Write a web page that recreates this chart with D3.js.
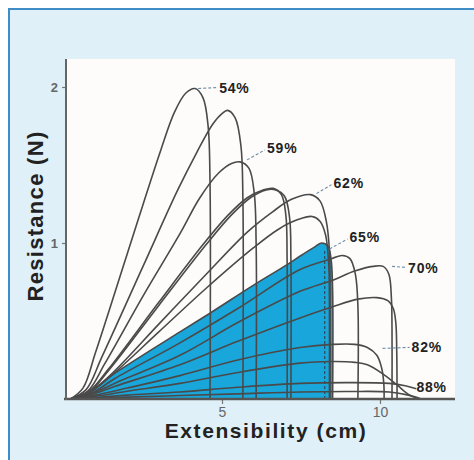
<!DOCTYPE html>
<html>
<head>
<meta charset="utf-8">
<script src="https://cdn.jsdelivr.net/npm/d3@7"></script>
<style>
html,body{margin:0;padding:0;background:#ffffff;}
svg{display:block;}
text{font-family:"Liberation Sans",Arial,Helvetica,sans-serif;}
</style>
</head>
<body>
<svg id="chart" width="474" height="460"></svg>
<script>
// ---------- DATA ----------
const xTicks = [5, 10];
const yTicks = [1, 2];
const xTitle = "Extensibility (cm)";
const yTitle = "Resistance (N)";

// Each curve: [extensibility (cm), resistance (N)]
const curveA = [[0.2,0],[0.6,0.07],[1.0,0.3],[2.0,0.93],[3.07,1.6],[3.5,1.84],[3.85,1.96],[4.15,1.99],[4.4,1.93],[4.56,1.75],[4.62,1.4],[4.62,0]];
const curveB = [[0.2,0],[0.7,0.06],[1.2,0.27],[2.5,0.85],[3.6,1.34],[4.2,1.58],[4.7,1.76],[5.0,1.83],[5.18,1.85],[5.42,1.8],[5.6,1.62],[5.66,1.3],[5.66,0]];
const curveC = [[0.2,0],[0.75,0.05],[1.3,0.23],[2.5,0.66],[3.67,1.06],[4.3,1.29],[4.9,1.45],[5.3,1.51],[5.57,1.52],[5.85,1.48],[6.02,1.32],[6.08,1.0],[6.08,0]];
const curveD = [[0.2,0],[0.8,0.05],[1.4,0.19],[3.0,0.62],[4.4,0.99],[5.2,1.18],[5.8,1.29],[6.3,1.34],[6.62,1.35],[6.88,1.31],[7.02,1.18],[7.06,0.9],[7.06,0]];
const curveE = [[0.2,0],[0.8,0.045],[1.4,0.18],[3.0,0.6],[4.5,0.99],[5.3,1.18],[5.9,1.29],[6.4,1.34],[6.7,1.34],[6.98,1.3],[7.14,1.16],[7.18,0.9],[7.18,0]];
const curveF = [[0.2,0],[0.8,0.04],[1.5,0.16],[3.0,0.48],[4.5,0.8],[5.8,1.07],[6.6,1.2],[7.2,1.28],[7.8,1.31],[8.1,1.27],[8.3,1.14],[8.4,0.95],[8.42,0.7],[8.42,0]];
const curveG = [[0.2,0],[0.8,0.04],[1.5,0.15],[3.0,0.43],[4.5,0.71],[6.0,0.97],[6.8,1.09],[7.4,1.15],[7.85,1.17],[8.1,1.14],[8.28,1.05],[8.38,0.85],[8.4,0.6],[8.4,0]];
const curveH = [[0.2,0],[0.8,0.045],[1.5,0.15],[3.67,0.43],[4.62,0.55],[6.0,0.73],[7.05,0.86],[7.5,0.92],[7.9,0.97],[8.15,1.0],[8.35,0.98],[8.45,0.9],[8.5,0.7],[8.5,0]];
const curveI = [[0.2,0],[0.9,0.04],[1.6,0.13],[3.67,0.36],[5.5,0.58],[7.47,0.83],[8.48,0.9],[8.8,0.92],[9.05,0.9],[9.22,0.8],[9.3,0.6],[9.3,0]];
const curveJ = [[0.2,0],[0.9,0.035],[1.6,0.1],[3.67,0.28],[5.5,0.49],[7.47,0.69],[8.48,0.76],[9.2,0.82],[9.78,0.85],[10.1,0.85],[10.28,0.8],[10.36,0.65],[10.38,0.45],[10.38,0]];
const curveK = [[0.2,0],[0.9,0.03],[1.6,0.08],[3.67,0.22],[5.5,0.37],[7.47,0.52],[8.48,0.59],[9.3,0.64],[9.9,0.65],[10.25,0.63],[10.42,0.58],[10.5,0.49],[10.53,0.3],[10.54,0]];
const curveL = [[0.2,0],[1.0,0.025],[2.0,0.07],[3.67,0.15],[5.5,0.25],[7.47,0.33],[8.5,0.35],[9.2,0.35],[9.6,0.33],[9.9,0.28],[10.05,0.2],[10.12,0.1],[10.13,0]];
const curveM = [[0.2,0],[1.0,0.018],[2.0,0.05],[3.67,0.1],[5.5,0.17],[7.47,0.23],[8.5,0.24],[9.2,0.235],[9.6,0.22],[10.1,0.16],[10.54,0.09],[10.9,0.03],[11.25,0]];
const curveN = [[0.2,0],[1.0,0.01],[2.0,0.025],[3.67,0.045],[5.5,0.075],[7.47,0.1],[9.0,0.105],[10.3,0.1],[10.8,0.085],[11.15,0.065]];
const curveO = [[0.2,0],[1.0,0.006],[2.0,0.012],[3.67,0.022],[5.5,0.033],[7.47,0.045],[9.0,0.048],[10.3,0.045],[10.9,0.025],[11.3,0]];

const curves = [curveA, curveB, curveC, curveD, curveE, curveF, curveG, curveH, curveI, curveJ, curveK, curveL, curveM, curveN, curveO];
const filledCurve = curveH;
const labelTexts  = ["54%", "59%", "62%", "65%", "70%", "82%", "88%"];
const labelCurves = [curveA, curveC, curveF, curveH, curveJ, curveL, curveN];

// ---------- DRAWING ----------
const svg = d3.select("#chart");
const W = 474, H = 460;

// outer panel
svg.append("rect").attr("x",0).attr("y",0).attr("width",W).attr("height",H).attr("fill","#ffffff");
svg.append("rect").attr("x",9).attr("y",9).attr("width",W+20).attr("height",H+20)
  .attr("fill","#dff0f8").attr("stroke","#3f8dc6").attr("stroke-width",2);

const x = d3.scaleLinear().domain([0, 12.3]).range([64, 64 + 31.6*12.3]);
const y = d3.scaleLinear().domain([0, 2.18]).range([399, 399 - 156*2.18]);

// plot area (white)
svg.append("rect").attr("x",66).attr("y",y(2.18)).attr("width",455-66).attr("height",399-y(2.18))
  .attr("fill","#fdfcfb");

const line = d3.line().x(d=>x(d[0])).y(d=>y(d[1])).curve(d3.curveCatmullRom.alpha(0.5));
const area = d3.area().x(d=>x(d[0])).y0(y(0)).y1(d=>y(d[1])).curve(d3.curveCatmullRom.alpha(0.5));

// blue fill
svg.append("path").datum(filledCurve).attr("d",area).attr("fill","#19a6da");
// dashed line inside fill near its right edge
const fillEdgeX = filledCurve[filledCurve.length-4][0] - 0.1;
svg.append("line").attr("x1",x(fillEdgeX)).attr("x2",x(fillEdgeX)).attr("y1",y(0)).attr("y2",y(0.95))
  .attr("stroke","#2b4a5c").attr("stroke-width",1.2).attr("stroke-dasharray","3,2");

// curves
svg.append("g").selectAll("path").data(curves).join("path")
  .attr("d", line).attr("fill","none").attr("stroke","#4a4a4a").attr("stroke-width",1.6)
  .attr("stroke-linejoin","round");

// axes
const xAxis = d3.axisBottom(x).tickValues(xTicks).tickSize(5).tickFormat(d3.format("d"));
const gx = svg.append("g").attr("transform",`translate(0,${y(0)})`).call(xAxis);
gx.select(".domain").remove();
gx.selectAll(".tick line").attr("stroke","#777").attr("stroke-width",1.2);
gx.selectAll(".tick text").attr("fill","#666").attr("font-size",14).attr("y",8).attr("dy","0.71em");
svg.append("line").attr("x1",64).attr("x2",455).attr("y1",y(0)).attr("y2",y(0))
  .attr("stroke","#555").attr("stroke-width",2.4);

const yAxis = d3.axisLeft(y).tickValues(yTicks).tickSize(4).tickFormat(d3.format("d"));
const gy = svg.append("g").attr("transform",`translate(66,0)`).call(yAxis);
gy.select(".domain").remove();
gy.selectAll(".tick line").attr("stroke","#777").attr("stroke-width",1.2);
gy.selectAll(".tick text").attr("fill","#666").attr("font-size",13).attr("font-weight","bold").attr("x",-8);
svg.append("line").attr("x1",66).attr("x2",66).attr("y1",y(2.18)).attr("y2",y(0)+1)
  .attr("stroke","#666").attr("stroke-width",2);

// titles
svg.append("text").attr("x",266).attr("y",438).attr("text-anchor","middle")
  .attr("font-size",21).attr("font-weight","bold").attr("letter-spacing","1.6px").attr("fill","#222")
  .text(xTitle);
svg.append("text").attr("transform","translate(43,216) rotate(-90)").attr("text-anchor","middle")
  .attr("font-size",22).attr("font-weight","bold").attr("letter-spacing","1.3px").attr("fill","#222")
  .text(yTitle);

// labels with dashed leaders (pixel offsets from each curve's peak)
const leaderOffsets = [
  {s:[3,0],   e:[22,-1],  t:[24,0]},
  {s:[7,-2],  e:[25,-12], t:[27,-14]},
  {s:[6,-1],  e:[21,-10], t:[23,-12]},
  {s:[8,6],   e:[26,-4],  t:[28,-6]},
  {s:[19,0],  e:[33,1],   t:[35,2]},
  {s:[50,4],  e:[77,3],   t:[79,3]},
  {s:[60,4],  e:[66,4],   t:[68,4]}
];
labelTexts.forEach((txt,i)=>{
  const c = labelCurves[i];
  const pk = c.reduce((a,b)=> b[1] > a[1] ? b : a);
  const px = x(pk[0]), py = y(pk[1]);
  const o = leaderOffsets[i];
  if (i < 6) {
    svg.append("line").attr("x1",px+o.s[0]).attr("y1",py+o.s[1]).attr("x2",px+o.e[0]).attr("y2",py+o.e[1])
      .attr("stroke","#6d8ea6").attr("stroke-width",1.1).attr("stroke-dasharray","3,2");
  }
  svg.append("text").attr("x",px+o.t[0]).attr("y",py+o.t[1]).attr("dy","0.35em")
    .attr("font-size",14).attr("font-weight","bold").attr("letter-spacing","0.8px").attr("fill","#222")
    .text(txt);
});
</script>
</body>
</html>
